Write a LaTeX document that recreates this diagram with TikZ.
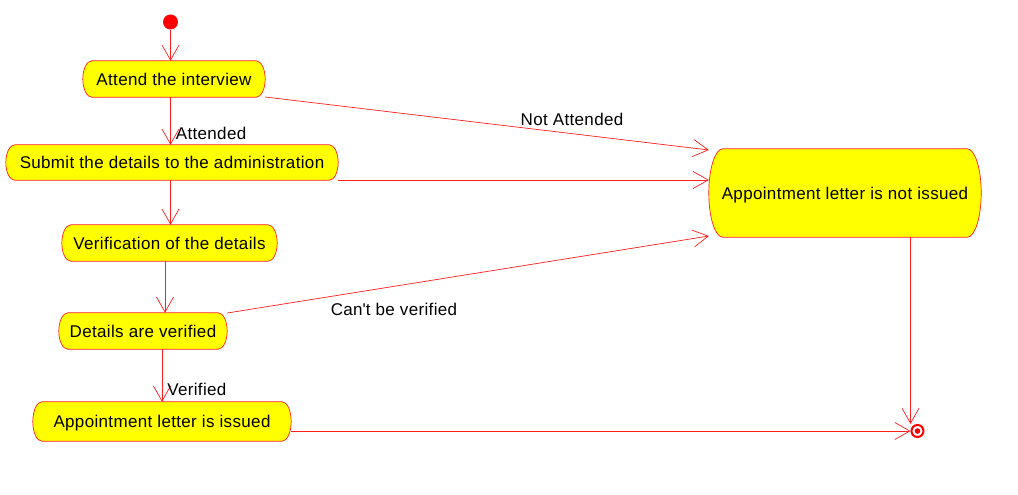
\documentclass[tikz,border=0pt]{standalone}
\usepackage{fontspec}
\setmainfont[LetterSpace=2]{Liberation Sans}
\usetikzlibrary{arrows.meta,backgrounds,calc}
\definecolor{actfill}{RGB}{255,255,0}
\definecolor{umlred}{RGB}{255,30,30}
\tikzset{
  act/.style={rectangle, inner sep=0pt, text=black, text height=12.5pt, text depth=0pt,
    font=\fontsize{17}{20}\selectfont},
  actshape/.style={draw=umlred, fill=actfill, line width=0.7pt},
  lbl/.style={inner sep=0pt, text=black, font=\fontsize{17}{20}\selectfont},
  arr/.style={draw=umlred, line width=0.7pt, -{Straight Barb[length=15pt,width=17pt]}},
  startnode/.style={circle, fill=red, inner sep=0pt, minimum size=15pt},
  endnode/.style={circle, draw=red, line width=2pt, fill=white, inner sep=0pt, minimum size=12pt,
    path picture={\fill[red] (path picture bounding box.center) circle[radius=2.8pt];}},
}
\newcommand\actoutline[2]{%
  \path[actshape] let \p1=(#1.north west), \p2=(#1.south east), \n1={(\y1-\y2)/2} in
    (\x1+#2pt,\y1) -- (\x2-#2pt,\y1)
    arc[start angle=90,end angle=-90,x radius=#2pt,y radius=\n1]
    -- (\x1+#2pt,\y2)
    arc[start angle=270,end angle=90,x radius=#2pt,y radius=\n1] -- cycle;}
\begin{document}
\begin{tikzpicture}[x=1pt,y=-1pt]
\useasboundingbox (0,0) rectangle (1018,495);
\node[startnode] (s) at (170.5,22) {};
\node[act, minimum width=182pt, minimum height=36pt] (a) at (174,79) {Attend the interview};
\node[act, minimum width=332pt, minimum height=35pt] (sub) at (172,162.5) {Submit the details to the administration};
\node[act, minimum width=215pt, minimum height=36pt] (ver) at (169.5,243) {Verification of the details};
\node[act, minimum width=168pt, minimum height=36pt] (det) at (143,331) {Details are verified};
\node[act, minimum width=258pt, minimum height=39pt] (iss) at (162,421.5) {Appointment letter is issued};
\node[act, minimum width=272pt, minimum height=88pt] (ni) at (845,193) {Appointment letter is not issued};
\node[endnode] (e) at (917.5,431) {};

\begin{scope}[on background layer]
\actoutline{a}{9}
\actoutline{sub}{9}
\actoutline{ver}{9}
\actoutline{det}{9}
\actoutline{iss}{9}
\actoutline{ni}{14}
\end{scope}

\coordinate (v1) at ([xshift=-4.5pt]ver.south);
\draw[arr] (s) -- (s |- a.north);
\draw[arr] (s |- a.south) -- (s |- sub.north) node[lbl, anchor=west, pos=0.77, xshift=5pt] {Attended};
\draw[arr] (s |- sub.south) -- (s |- ver.north);
\draw[arr] (v1) -- (v1 |- det.north);
\draw[arr] (det.south -| iss.north) -- (iss.north) node[lbl, anchor=west, pos=0.77, xshift=5pt] {Verified};
\draw[arr] ([yshift=-9.5pt]iss.east) -- (e.west);
\draw[arr] ([yshift=-18pt]a.east) -- ([yshift=43pt]ni.west);
\draw[arr] ([yshift=-17.5pt]sub.east) -- ([yshift=13pt]ni.west);
\draw[arr] ([yshift=18pt]det.east) -- ([yshift=-43pt]ni.west);
\draw[arr] (ni.south -| e.west) -- (e.west |- e.north);

\node[lbl] (l1) at (572,119) {Not Attended};
\node[lbl] (l2) at (394,309) {Can\textquotesingle t be verified};
\end{tikzpicture}
\end{document}
